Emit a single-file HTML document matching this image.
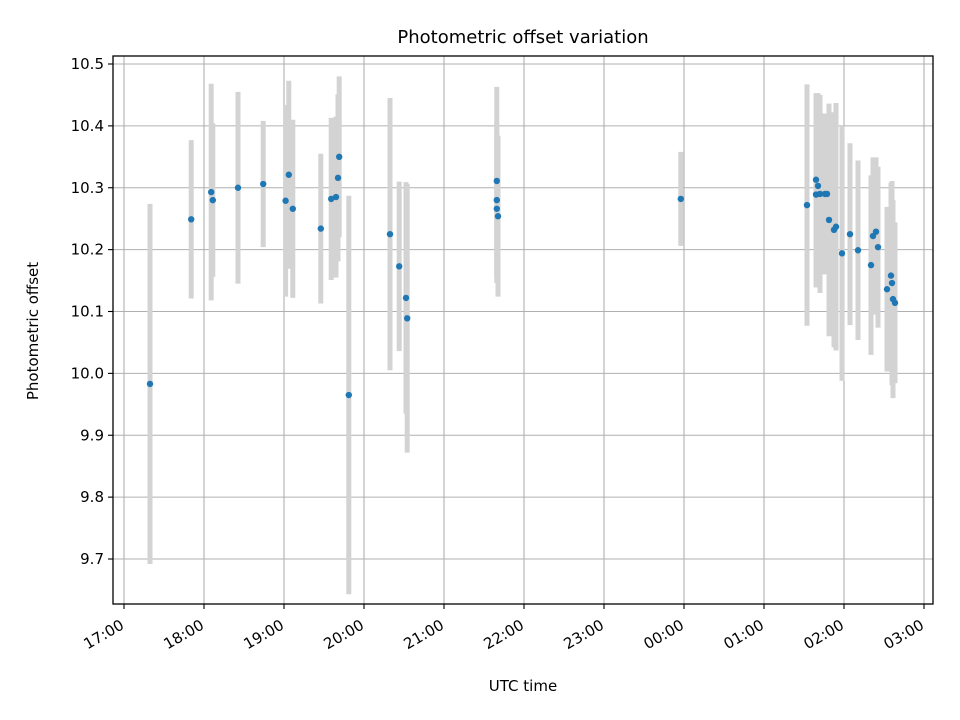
<!DOCTYPE html>
<html><head><meta charset="utf-8"><style>
body{margin:0;background:#fff}
svg{display:block;font-family:"DejaVu Sans","Liberation Sans",sans-serif}
</style></head><body>
<svg id="chart" width="960" height="720" viewBox="0 0 960 720">
<rect width="960" height="720" fill="#fff"/>
<text x="523" y="43" text-anchor="middle" font-size="18">Photometric offset variation</text>
<g id="grid"></g>
<g id="errs"></g>
<g id="pts"></g>
<rect x="113" y="56" width="820" height="548" fill="none" stroke="#000" stroke-width="1.3"/>
<g id="axes"></g>
<text x="523" y="691" text-anchor="middle" font-size="15">UTC time</text>
<text transform="translate(38,331) rotate(-90)" text-anchor="middle" font-size="15">Photometric offset</text>
</svg>
<script>
// times in hours (after midnight on the next day add 24)
const times = [17.325,17.84,18.09,18.11,18.425,18.74,19.02,19.06,19.11,19.46,19.59,19.65,19.675,19.69,19.81,20.325,20.44,20.525,20.54,21.66,21.66,21.66,21.675,23.96,
25.5375,25.65,25.65,25.675,25.7,25.7625,25.7875,25.8125,25.875,25.9,25.975,26.075,26.175,26.3375,26.3625,26.4,26.425,26.5375,26.5875,26.6,26.6125,26.6375];
const offsets = [9.983,10.249,10.293,10.280,10.300,10.306,10.279,10.321,10.266,10.234,10.282,10.285,10.316,10.350,9.965,10.225,10.173,10.122,10.089,10.311,10.280,10.266,10.254,10.282,
10.272,10.289,10.313,10.303,10.290,10.290,10.290,10.248,10.232,10.237,10.194,10.225,10.199,10.175,10.222,10.229,10.204,10.136,10.158,10.146,10.120,10.114];
const errors = [0.291,0.128,0.175,0.124,0.155,0.102,0.155,0.152,0.144,0.121,0.131,0.13,0.135,0.13,0.322,0.22,0.137,0.187,0.217,0.152,0.126,0.12,0.13,0.076,
0.195,0.15,0.14,0.15,0.16,0.13,0.12,0.188,0.19,0.2,0.206,0.147,0.145,0.145,0.127,0.12,0.13,0.133,0.15,0.165,0.16,0.13];
const yTicks = [9.7,9.8,9.9,10.0,10.1,10.2,10.3,10.4,10.5];
const xTickHours = [17,18,19,20,21,22,23,24,25,26,27];
const xTickLabels = ["17:00","18:00","19:00","20:00","21:00","22:00","23:00","00:00","01:00","02:00","03:00"];

const NS="http://www.w3.org/2000/svg";
const X = t => 124 + (t-17)*80;
const Y = v => 64 + (10.5-v)*618.75;
function mk(tag, attrs, parent){const e=document.createElementNS(NS,tag);for(const k in attrs)e.setAttribute(k,attrs[k]);parent.appendChild(e);return e;}
const grid=document.getElementById('grid'), axes=document.getElementById('axes'), errs=document.getElementById('errs'), pts=document.getElementById('pts');

yTicks.forEach(v=>{
  const y=Y(v);
  const g=mk('line',{x1:113,x2:933,y1:y,y2:y,stroke:'#b0b0b0','stroke-width':1.1},grid);
  
  
  const t=mk('line',{x1:108,x2:113,y1:y,y2:y,stroke:'#000','stroke-width':1.1},axes);
  
  
  const l=mk('text',{x:104,y:y+5,'text-anchor':'end','font-size':15},axes);
  l.textContent=v.toFixed(1);
  
  
});
xTickHours.forEach((h,i)=>{
  const x=X(h);
  const g=mk('line',{x1:x,x2:x,y1:56,y2:604,stroke:'#b0b0b0','stroke-width':1.1},grid);
  
  
  const t=mk('line',{x1:x,x2:x,y1:604,y2:609,stroke:'#000','stroke-width':1.1},axes);
  
  
  const l=mk('text',{transform:`translate(${x+1},${628}) rotate(-30)`,'text-anchor':'end','font-size':15},axes);
  l.textContent=xTickLabels[i];
  
  
});
times.forEach((t,i)=>{
  const x=X(t);
  const e=mk('line',{x1:x,x2:x,y1:Y(offsets[i]+errors[i]),y2:Y(offsets[i]-errors[i]),stroke:'#d3d3d3','stroke-width':5},errs);
  
  
});
times.forEach((t,i)=>{
  const c=mk('circle',{cx:X(t),cy:Y(offsets[i]),r:3.2,fill:'#1f77b4'},pts);
  
  
});
</script>
</body></html>
